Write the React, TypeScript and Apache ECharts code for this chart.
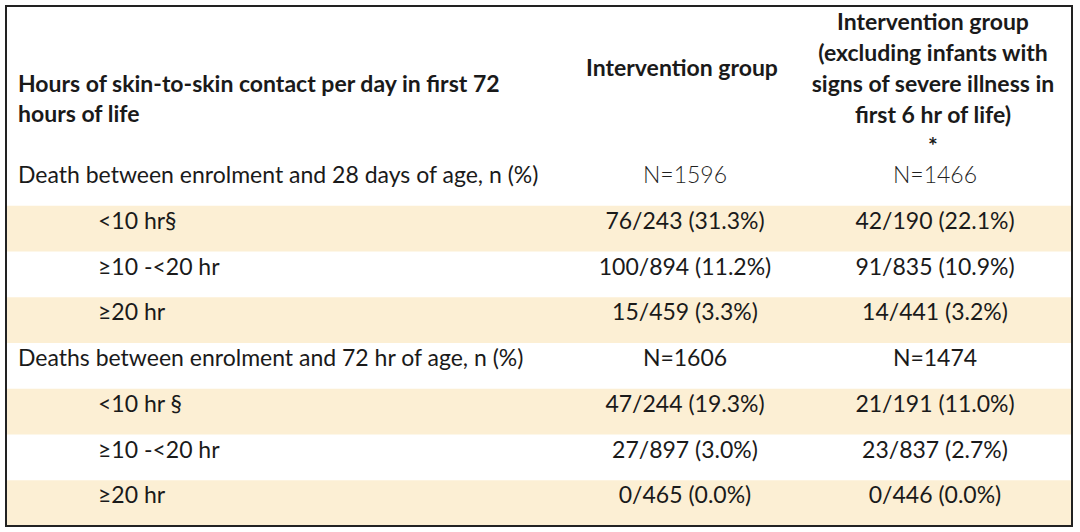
import React, { useEffect, useRef } from "react";
import * as echarts from "echarts";

const headerLeft = ["Hours of skin-to-skin contact per day in first 72", "hours of life"];
const headerCol1 = ["Intervention group"];
const headerCol2 = [
  "Intervention group",
  "(excluding infants with",
  "signs of severe illness in",
  "first 6 hr of life)",
  "*",
];

const rowLabels = [
  "Death between enrolment and 28 days of age, n (%)",
  "<10 hr§",
  "≥10 -<20 hr",
  "≥20 hr",
  "Deaths between enrolment and 72 hr of age, n (%)",
  "<10 hr §",
  "≥10 -<20 hr",
  "≥20 hr",
];
const rowIsSub = [false, true, true, true, false, true, true, true];
const rowStriped = [false, true, false, true, false, true, false, true];
const col1Values = [
  "N=1596",
  "76/243 (31.3%)",
  "100/894 (11.2%)",
  "15/459 (3.3%)",
  "N=1606",
  "47/244 (19.3%)",
  "27/897 (3.0%)",
  "0/465 (0.0%)",
];
const col2Values = [
  "N=1466",
  "42/190 (22.1%)",
  "91/835 (10.9%)",
  "14/441 (3.2%)",
  "N=1474",
  "21/191 (11.0%)",
  "23/837 (2.7%)",
  "0/446 (0.0%)",
];
const rowWeight = ["300", "normal", "normal", "normal", "normal", "normal", "normal", "normal"];

export default function App() {
  const ref = useRef<HTMLDivElement>(null);
  useEffect(() => {
    if (!ref.current) return;
    const chart = echarts.init(ref.current, null, { renderer: "svg" });
    const FONT = "Lato";
    const FS = 23;
    const color = "#1a1a1a";
    const L = 6, T = 6, R = 1072, B = 526;
    const rowTop0 = 160;
    const rowH = (B - rowTop0) / rowLabels.length;
    const c1x = 685, c2x = 935;
    const els: any[] = [];
    rowLabels.forEach((_, i) => {
      if (rowStriped[i]) {
        els.push({
          type: "rect",
          shape: { x: L, y: rowTop0 + i * rowH, width: R - L, height: rowH },
          style: { fill: "#fcefd4" },
          silent: true,
        });
      }
    });
    els.push({
      type: "rect",
      shape: { x: L, y: T, width: R - L, height: B - T },
      style: { fill: "none", stroke: "#222", lineWidth: 2 },
      silent: true,
    });
    const txt = (s: string, x: number, y: number, align: string, weight: string, fc = color) => ({
      type: "text",
      x,
      y,
      style: {
        text: s,
        fill: fc,
        font: `${weight} ${FS}px ${FONT}`,
        align,
        verticalAlign: "middle",
      },
      silent: true,
    });
    headerLeft.forEach((s, i) => els.push(txt(s, 18, 83 + i * 30, "left", "bold")));
    headerCol1.forEach((s) => els.push(txt(s, 682, 67, "center", "bold")));
    headerCol2.forEach((s, i) => els.push(txt(s, 933, 21 + i * 31, "center", "bold")));
    rowLabels.forEach((s, i) => {
      const y = rowTop0 + i * rowH + 14;
      els.push(txt(s, rowIsSub[i] ? 98 : 18, y, "left", "normal"));
      const fc = rowWeight[i] === "300" ? "#1f1f1f" : color;
      els.push(txt(col1Values[i], c1x, y, "center", rowWeight[i], fc));
      els.push(txt(col2Values[i], c2x, y, "center", rowWeight[i], fc));
    });
    chart.setOption({
      animation: false,
      backgroundColor: "#ffffff",
      graphic: { elements: els },
    });
    return () => chart.dispose();
  }, []);
  return <div ref={ref} style={{ width: 1080, height: 532, position: "absolute", left: 0, top: 0 }} />;
}
